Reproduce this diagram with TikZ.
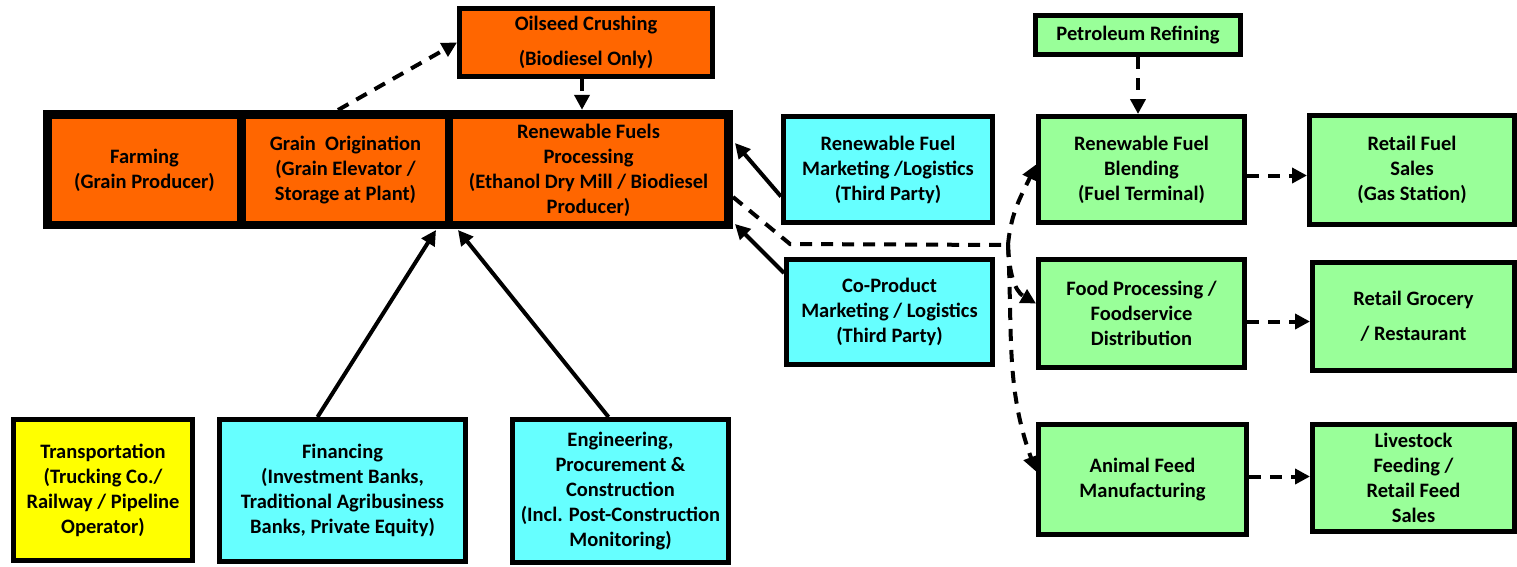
\documentclass[tikz,border=0pt]{standalone}
\usepackage{fontspec}
\setmainfont{Carlito}
\usetikzlibrary{arrows.meta,calc}
\definecolor{orng}{HTML}{FF6600}
\definecolor{cyn}{HTML}{66FFFF}
\definecolor{grn}{HTML}{99FF99}
\definecolor{yel}{HTML}{FFFF00}
\begin{document}
\begin{tikzpicture}[x=1pt,y=-1pt,
  txt/.style={align=center, inner sep=0pt, font=\bfseries\fontsize{20.5}{25}\selectfont},
  box/.style={txt, draw=black, line width=5pt},
  cell/.style={txt, fill=orng},
  sarr/.style={line width=4pt, -{Triangle[length=15pt,width=15pt]}},
  darr/.style={sarr, dash pattern=on 12pt off 9pt},
  dline/.style={line width=4pt, dash pattern=on 12pt off 9pt},
]
\useasboundingbox (0,0) rectangle (1517,566);

% orange group
\node[box, fill=orng, minimum width=253pt, minimum height=68pt] (oil) at (586,42.5) {Oilseed Crushing\\[10pt](Biodiesel Only)};
\node[fill=black, inner sep=0pt, minimum width=690pt, minimum height=119pt] (cont) at (388,169.5) {};
\node[cell, minimum width=185pt, minimum height=102pt] (farm) at (144.5,170) {Farming\\(Grain Producer)};
\node[cell, minimum width=199pt, minimum height=102pt] (grain) at (345.5,170) {Grain\ \ Origination\\(Grain Elevator /\\Storage at Plant)};
\node[cell, minimum width=271pt, minimum height=102pt] (rfp) at (588.5,170) {Renewable Fuels\\Processing\\(Ethanol Dry Mill / Biodiesel\\Producer)};

% cyan
\node[box, fill=cyn, minimum width=209pt, minimum height=106pt] (rfml) at (888,169.5) {Renewable Fuel\\Marketing /Logistics\\(Third Party)};
\node[box, fill=cyn, minimum width=206pt, minimum height=105pt] (cop) at (889.5,312) {Co-Product\\Marketing / Logistics\\(Third Party)};
\node[box, fill=yel, minimum width=179pt, minimum height=141pt] (trans) at (103,490) {Transportation\\(Trucking Co./\\Railway / Pipeline\\Operator)};
\node[box, fill=cyn, minimum width=246pt, minimum height=142pt] (fin) at (342.5,490.5) {Financing\\(Investment Banks,\\Traditional Agribusiness\\Banks, Private Equity)};
\node[box, fill=cyn, minimum width=216pt, minimum height=143pt] (eng) at (620.5,491) {Engineering,\\Procurement \&\\Construction\\(Incl. Post-Construction\\Monitoring)};

% green
\node[box, fill=grn, minimum width=205pt, minimum height=39pt] (pet) at (1138,35) {Petroleum Refining};
\node[box, fill=grn, minimum width=206pt, minimum height=106pt] (blend) at (1141.5,169.5) {Renewable Fuel\\Blending\\(Fuel Terminal)};
\node[box, fill=grn, minimum width=206pt, minimum height=108pt] (food) at (1141.5,313.5) {Food Processing /\\Foodservice\\Distribution};
\node[box, fill=grn, minimum width=208pt, minimum height=110pt] (anim) at (1142.5,479.5) {Animal Feed\\Manufacturing};
\node[box, fill=grn, minimum width=205pt, minimum height=109pt] (retail) at (1412,170) {Retail Fuel\\Sales\\(Gas Station)};
\node[box, fill=grn, minimum width=202pt, minimum height=108pt] (groc) at (1413.5,316.5) {Retail Grocery\\[10pt]/ Restaurant};
\node[box, fill=grn, minimum width=202pt, minimum height=107pt] (live) at (1413.5,478) {Livestock\\Feeding /\\Retail Feed\\Sales};

% connector end points on the group
\coordinate (oilIn) at (338,110);
\coordinate (finEnd) at (436,230);
\coordinate (engEnd) at (458,230);
\coordinate (rfmlEnd) at (735,143);
\coordinate (copEnd) at (735,224);
\coordinate (rfpOut) at (733,197);
\coordinate (bend) at (790,244);
\coordinate (J) at (1008,245);

% connectors
\draw[darr] (oilIn) -- (oil.west);
\draw[darr] ([xshift=-4pt]oil.south) -- ([xshift=-4pt]oil.south |- cont.north);
\draw[sarr] ([xshift=-25pt]fin.north) -- (finEnd);
\draw[sarr] ([xshift=-12pt]eng.north) -- (engEnd);
\draw[sarr] ([yshift=-27pt]rfml.west) -- (rfmlEnd);
\draw[sarr] ([yshift=-16pt]cop.north west) -- (copEnd);
\draw[dline] (rfpOut) -- (bend) -- (J);
\draw[darr] (J) to[out=85,in=245] ([yshift=5pt]blend.west);
\draw[darr] (J) to[out=-88,in=150] ([yshift=10pt]food.west);
\draw[darr] (J) to[out=-87,in=110] ([yshift=8pt]anim.west);
\draw[darr] (pet.south) -- (pet.south |- blend.north);
\draw[darr] ([yshift=-6pt]blend.east) -- ([yshift=-6pt]blend.east -| retail.west);
\draw[darr] ([yshift=-8pt]food.east) -- ([yshift=-8pt]food.east -| groc.west);
\draw[darr] ([yshift=3pt]anim.east) -- ([yshift=3pt]anim.east -| live.west);
\end{tikzpicture}
\end{document}
